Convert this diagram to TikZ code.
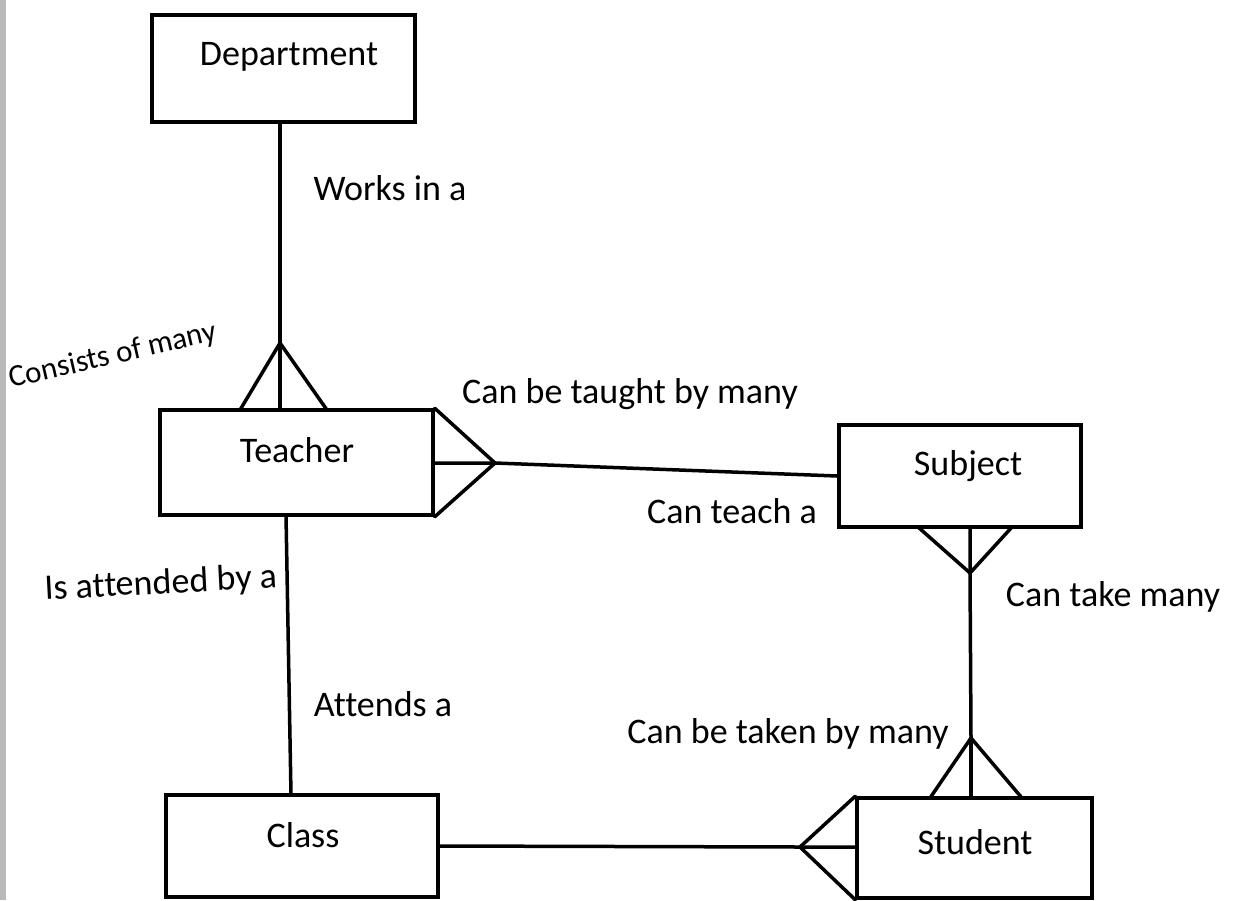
\documentclass[tikz,border=0pt]{standalone}
\usepackage{fontspec}
\setmainfont{Carlito}[Ligatures=NoCommon]
\tikzset{
  ent/.style={draw=black, line width=3.5pt, rectangle, inner sep=0pt},
  lnk/.style={draw=black, line width=3.5pt, line cap=round, line join=round},
  etext/.style={font=\fontsize{36}{42}\selectfont, inner sep=0pt},
  rtext/.style={font=\fontsize{36}{42}\selectfont, inner sep=0pt},
}
\begin{document}
\begin{tikzpicture}[x=1pt,y=-1pt]
\useasboundingbox (0,0) rectangle (1233,900);
\fill[white] (0,0) rectangle (1233,900);
\fill[gray!55] (0,0) rectangle (6,900);
% entities
\node[ent, minimum width=263pt, minimum height=107pt] (dept) at (283.5,68.5) {};
\node[ent, minimum width=273pt, minimum height=105pt] (teacher) at (296.5,462.5) {};
\node[ent, minimum width=242pt, minimum height=102pt] (subject) at (960,476) {};
\node[ent, minimum width=272pt, minimum height=102pt] (class) at (302,846) {};
\node[ent, minimum width=235pt, minimum height=100pt] (student) at (974.5,848) {};
\node[etext] (tdept) at (289,57) {Department};
\node[etext] (tteacher) at (297,450) {Teacher};
\node[etext] (tsubject) at (968,466) {Subject};
\node[etext] (tclass) at (303,835) {Class};
\node[etext] (tstudent) at (975,842) {Student};
% crow's-foot apexes and feet
\coordinate (tA) at (280,343);
\coordinate (tAl) at (240,410);
\coordinate (tAm) at (280,410);
\coordinate (tAr) at (327,410);
\coordinate (tB) at (495,463);
\coordinate (sA) at (970,573);
\coordinate (sAl) at (918,527);
\coordinate (sAm) at (970,527);
\coordinate (sAr) at (1012,527);
\coordinate (stA) at (971,738);
\coordinate (stAl) at (930,798);
\coordinate (stAm) at (971,798);
\coordinate (stAr) at (1022,798);
\coordinate (stB) at (800,847);
\coordinate (tBot) at (286,515);
\coordinate (cTop) at (291,795);
% Department -- Teacher
\draw[lnk] (dept.south -| tA) -- (tA);
\draw[lnk] (tAl) -- (tA) -- (tAr);
\draw[lnk] (tA) -- (tAm);
% Teacher -- Subject
\draw[lnk] (teacher.north east) -- (tB) -- (teacher.south east);
\draw[lnk] (tB -| teacher.east) -- (tB) -- (subject.west);
% Subject -- Student
\draw[lnk] (sAl) -- (sA) -- (sAr);
\draw[lnk] (sAm) -- (sA) -- (stA);
\draw[lnk] (stAl) -- (stA) -- (stAr);
\draw[lnk] (stA) -- (stAm);
% Class -- Student
\draw[lnk] (student.north west) -- (stB) -- (student.south west);
\draw[lnk] (class.east) -- (stB) -- (stB -| student.west);
% Teacher -- Class
\draw[lnk] (tBot) -- (cTop);
% relationship labels
\node[rtext] (l1) at (390,188) {Works in a};
\node[rtext, rotate=13, font=\fontsize{31}{36}\selectfont] (l2) at (113,356) {Consists of many};
\node[rtext] (l3) at (630,394) {Can be taught by many};
\node[rtext] (l4) at (732,511) {Can teach a};
\node[rtext, rotate=3] (l5) at (161,584) {Is attended by a};
\node[rtext] (l6) at (1113,597) {Can take many};
\node[rtext] (l7) at (383,704) {Attends a};
\node[rtext] (l8) at (788,734) {Can be taken by many};
\end{tikzpicture}
\end{document}
